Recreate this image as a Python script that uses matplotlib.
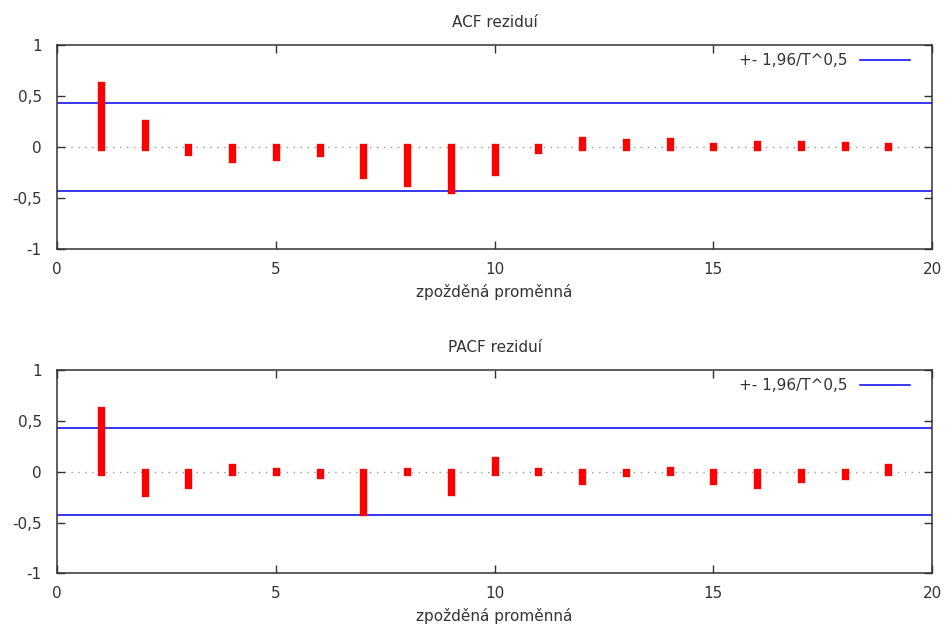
import matplotlib
matplotlib.use("Agg")
import matplotlib.pyplot as plt
from matplotlib.ticker import FixedLocator

lags = list(range(1, 20))
acf_vals = [0.61, 0.235, -0.043, -0.111, -0.095, -0.056, -0.268, -0.346, -0.415,
            -0.239, -0.03, 0.075, 0.049, 0.062, 0.01, 0.036, 0.036, 0.023, 0.01]
pacf_vals = [0.607, -0.213, -0.134, 0.049, 0.005, -0.03, -0.393, 0.01, -0.20,
             0.115, 0.01, -0.095, -0.016, 0.016, -0.095, -0.134, -0.069, -0.043, 0.049]
conf_band = 0.43
titles = ["ACF reziduí", "PACF reziduí"]
xlabel_text = "zpožděná proměnná"
legend_text = "+- 1,96/T^0,5"
yticks = [-1, -0.5, 0, 0.5, 1]
ytick_labels = ["-1", "-0,5", "0", "0,5", "1"]
xticks = [0, 5, 10, 15, 20]

plt.rcParams['font.family'] = ['DejaVu Sans']
fig = plt.figure(figsize=(9.46, 6.25), dpi=100)
positions = [[0.0603, 0.601, 0.925, 0.327], [0.0603, 0.0827, 0.925, 0.325]]
txtcol = "#333333"
fs = 11

for pos, vals, title in zip(positions, [acf_vals, pacf_vals], titles):
    ax = fig.add_axes(pos)
    ax.set_xlim(0, 20)
    ax.set_ylim(-1, 1)
    ax.axhline(0, color="#999999", lw=1, ls=(0, (1, 4)), zorder=1)
    ax.axhline(conf_band, color="#0000ee", lw=1.1, label=legend_text, zorder=2)
    ax.axhline(-conf_band, color="#0000ee", lw=1.1, zorder=2)
    lc = ax.vlines(lags, 0, vals, colors="#ff0000", lw=5.3, zorder=3)
    lc.set_capstyle("projecting")
    ax.xaxis.set_major_locator(FixedLocator(xticks))
    ax.set_xticklabels([str(t) for t in xticks])
    ax.yaxis.set_major_locator(FixedLocator(yticks))
    ax.set_yticklabels(ytick_labels)
    ax.tick_params(direction="in", length=6, width=1, top=True, right=True,
                   labelsize=fs, labelcolor=txtcol, color="#333333")
    ax.tick_params(axis="x", pad=9)
    ax.tick_params(axis="y", pad=11)
    for s in ax.spines.values():
        s.set_linewidth(1.1)
        s.set_color("#333333")
    ax.set_title(title, fontsize=fs, color=txtcol, pad=13)
    ax.set_xlabel(xlabel_text, fontsize=fs, color=txtcol, labelpad=5)
    leg = ax.legend(loc="upper right", frameon=False, markerfirst=False,
                    fontsize=fs, handlelength=3.3, handletextpad=0.8,
                    borderpad=0, borderaxespad=0,
                    bbox_to_anchor=(0.975, 0.96))
    for t in leg.get_texts():
        t.set_color(txtcol)

fig.savefig("out.png", dpi=100)
